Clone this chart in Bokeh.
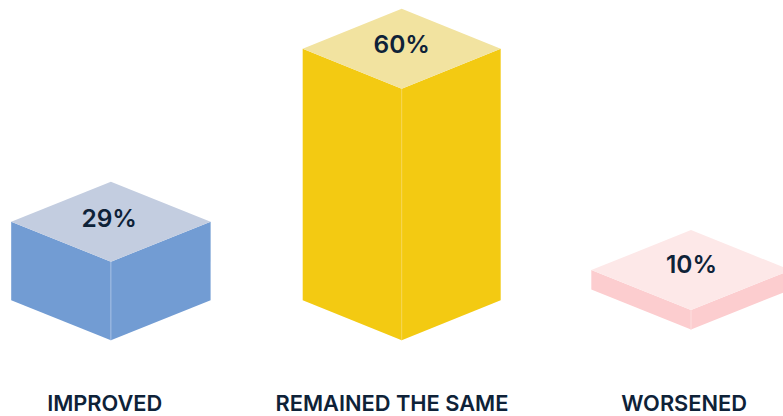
from bokeh.plotting import figure
from bokeh.embed import file_html
from bokeh.resources import INLINE
from bokeh.core.properties import value

categories = ["IMPROVED", "REMAINED THE SAME", "WORSENED"]
percent = [29, 60, 10]
bar_heights = [78.5, 251.4, 19.5]
base_levels = [0.3, 0.3, 10.9]
centers = [110.4, 401.2, 690.5]
half_widths = [99.7, 99, 99.7]
side_colors = ["#729CD3", "#F3CA12", "#FCCDCF"]
top_colors = ["#C3CDE0", "#F2E3A0", "#FDE8E8"]
seam_colors = ["#A3BEE3", "#F6D650", "#FDDFDF"]
ink = "#0E2238"
font = "Inter SemiBold"

W, H = 783, 416
BASE_PAGE_Y = 340
HALF_DEPTH = 40

p = figure(width=W, height=H, output_backend="svg", toolbar_location=None,
           x_range=(0, W),
           y_range=(BASE_PAGE_Y - H, BASE_PAGE_Y),
           min_border=0, outline_line_color=None,
           background_fill_color="white", border_fill_color="white")
p.axis.visible = False
p.grid.visible = False

for c, hw, h, b, sc, tc, mc in zip(centers, half_widths, bar_heights, base_levels,
                                   side_colors, top_colors, seam_colors):
    d = HALF_DEPTH
    front_top = b + h
    p.patch([c - hw, c, c, c - hw], [b + d, b, front_top, front_top + d], color=sc, line_color=None)
    p.patch([c, c + hw, c + hw, c], [b, b + d, front_top + d, front_top], color=sc, line_color=None)
    p.patch([c - hw, c, c + hw, c], [front_top + d, front_top, front_top + d, front_top + 2 * d],
            color=tc, line_color=None)
    p.segment([c], [b], [c], [front_top], line_color=mc, line_width=1)

value_x = [108.7, 401.2, 691]
value_page_y = [217.5, 43.5, 263.5]
p.text(value_x, [BASE_PAGE_Y - y for y in value_page_y], text=[f"{v}%" for v in percent],
       text_font=value(font), text_font_size="24.5px",
       text_color=ink, text_align="center", text_baseline="middle")

label_x = [104.2, 391.5, 683.6]
label_page_y = [402.6, 402.6, 402.6]
p.text(label_x, [BASE_PAGE_Y - y for y in label_page_y], text=categories,
       text_font=value(font), text_font_size="21.8px",
       text_color=ink, text_align="center", text_baseline="middle")

open("out.html", "w").write(file_html(p, INLINE))
